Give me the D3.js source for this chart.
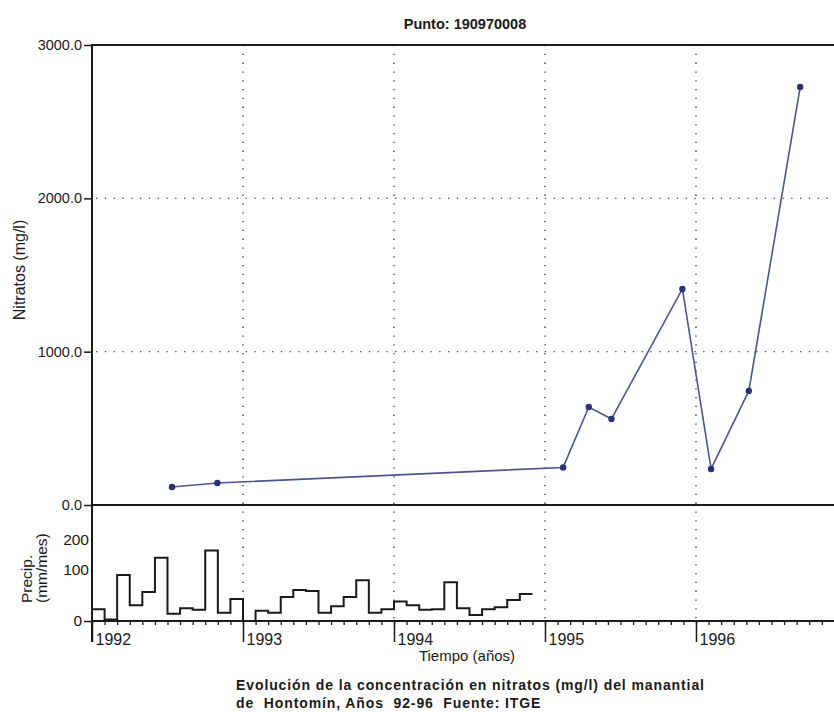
<!DOCTYPE html>
<html>
<head>
<meta charset="utf-8">
<script src="https://cdn.jsdelivr.net/npm/d3@7"></script>
<style>
body { margin: 0; background: #fff; }
svg { display: block; font-family: "Liberation Sans", Arial, sans-serif; }
</style>
</head>
<body>
<div id="chart"></div>
<script>
// muestras de nitratos (año decimal, mg/l)
var sampleYears = [1992.53, 1992.83, 1995.12, 1995.29, 1995.44, 1995.91, 1996.10, 1996.35, 1996.69];
var nitrates = [117, 143, 245, 639, 561, 1409, 235, 744, 2726];

// precipitacion mensual desde enero 1992 (mm/mes)
var precip1992 = [23, 3, 90, 31, 57, 141, 14, 25, 22, 165, 16, 43];
var precip1993 = [0, 20, 16, 47, 61, 59, 16, 29, 47, 80, 16, 23];
var precip1994 = [38, 31, 22, 23, 76, 25, 12, 23, 27, 41, 53];

var years = [1992, 1993, 1994, 1995, 1996];
var nitrateTicks = [0, 1000, 2000, 3000];
var precipTicks = [0, 100, 200];

var width = 834, height = 712;

var svg = d3.select("#chart").append("svg")
    .attr("width", width)
    .attr("height", height);

var x = d3.scaleLinear().domain([1992, 1996.914]).range([92, 834]);
var yN = d3.scaleLinear().domain([0, 3000]).range([505, 45]);
// la escala de precipitacion del original no es lineal entre 100 y 200
var yP = d3.scaleLinear().domain([0, 100, 200]).range([621, 570, 540]);

var ink = "#1a1a1a";

// rejilla punteada
svg.append("g").selectAll("line")
    .data(years.slice(1))
    .join("line")
    .attr("x1", d => x(d)).attr("x2", d => x(d))
    .attr("y1", yN(3000)).attr("y2", yP(0))
    .attr("stroke", "#333").attr("stroke-width", 1.3)
    .attr("stroke-dasharray", "1.3,7.5");

svg.append("g").selectAll("line")
    .data([1000, 2000])
    .join("line")
    .attr("x1", x(1992) + 4).attr("x2", width)
    .attr("y1", d => yN(d)).attr("y2", d => yN(d))
    .attr("stroke", "#444").attr("stroke-width", 1.2)
    .attr("stroke-dasharray", "1.3,7.5");

// marcos
svg.append("line")
    .attr("x1", x(1992)).attr("x2", width)
    .attr("y1", yN(3000)).attr("y2", yN(3000))
    .attr("stroke", ink).attr("stroke-width", 2);
svg.append("line")
    .attr("x1", x(1992)).attr("x2", width)
    .attr("y1", yN(0)).attr("y2", yN(0))
    .attr("stroke", ink).attr("stroke-width", 2);
svg.append("line")
    .attr("x1", x(1992)).attr("x2", width)
    .attr("y1", yP(0)).attr("y2", yP(0))
    .attr("stroke", ink).attr("stroke-width", 2.2);
svg.append("line")
    .attr("x1", x(1992)).attr("x2", x(1992))
    .attr("y1", yN(3000) - 1).attr("y2", yP(0) + 21)
    .attr("stroke", ink).attr("stroke-width", 2);

// eje nitratos
var axN = svg.append("g")
    .attr("transform", `translate(${x(1992)},0)`)
    .call(d3.axisLeft(yN).tickValues(nitrateTicks).tickFormat(d3.format(".1f")).tickSize(8).tickSizeOuter(0).tickPadding(2));
axN.select(".domain").remove();
axN.selectAll("line").attr("stroke", ink).attr("stroke-width", 1.5);
axN.selectAll("text").attr("font-size", 14.5).attr("fill", ink).attr("font-family", null);

// eje precipitacion
var axP = svg.append("g")
    .attr("transform", `translate(${x(1992)},0)`)
    .call(d3.axisLeft(yP).tickValues(precipTicks).tickFormat(d3.format("d")).tickSize(8).tickPadding(2));
axP.select(".domain").remove();
axP.selectAll("line").attr("stroke", ink).attr("stroke-width", 1.5);
axP.selectAll(".tick").filter(d => d !== 0).select("line").remove();
axP.selectAll(".tick").filter(d => d !== 0).select("text").attr("x", -3);
axP.selectAll("text").attr("font-size", 15.5).attr("fill", ink).attr("font-family", null);

// eje de tiempo: meses y años
var months = d3.range(59).map(i => 1992 + i / 12);
var axM = svg.append("g")
    .attr("transform", `translate(0,${yP(0)})`)
    .call(d3.axisBottom(x).tickValues(months).tickSize(4).tickFormat(""));
axM.select(".domain").remove();
axM.selectAll("line").attr("stroke", ink).attr("stroke-width", 1.3);

var axY = svg.append("g")
    .attr("transform", `translate(0,${yP(0)})`)
    .call(d3.axisBottom(x).tickValues(years).tickSize(21).tickFormat(d3.format("d")));
axY.select(".domain").remove();
axY.selectAll("line").attr("stroke", ink).attr("stroke-width", 1.5);
axY.selectAll("text")
    .attr("text-anchor", "start")
    .attr("x", 3).attr("y", 24).attr("dy", 0)
    .attr("font-size", 16).attr("fill", ink).attr("font-family", null);

// precipitacion en escalones
var precip = precip1992.concat(precip1993, precip1994);
var steps = precip.map((v, i) => ({ t: 1992 + i / 12, v: v }));
steps.push({ t: 1992 + precip.length / 12, v: precip[precip.length - 1] });

var stepLine = d3.line()
    .x(d => x(d.t))
    .y(d => yP(d.v))
    .curve(d3.curveStepAfter);

svg.append("path")
    .attr("d", stepLine(steps))
    .attr("fill", "none")
    .attr("stroke", ink)
    .attr("stroke-width", 2);

// nitratos
var nData = sampleYears.map((t, i) => ({ t: t, v: nitrates[i] }));
var nLine = d3.line().x(d => x(d.t)).y(d => yN(d.v));

svg.append("path")
    .attr("d", nLine(nData))
    .attr("fill", "none")
    .attr("stroke", "#4a5592")
    .attr("stroke-width", 1.6);

svg.append("g").selectAll("circle")
    .data(nData)
    .join("circle")
    .attr("cx", d => x(d.t))
    .attr("cy", d => yN(d.v))
    .attr("r", 3.2)
    .attr("fill", "#26337a");

// textos
svg.append("text")
    .attr("x", 465).attr("y", 29)
    .attr("text-anchor", "middle")
    .attr("font-size", 14.5).attr("font-weight", "bold").attr("fill", ink)
    .text("Punto: 190970008");

svg.append("text")
    .attr("transform", "translate(25,270) rotate(-90)")
    .attr("text-anchor", "middle")
    .attr("font-size", 16).attr("fill", ink)
    .text("Nitratos (mg/l)");

svg.append("text")
    .attr("transform", "translate(32,603) rotate(-90)")
    .attr("font-size", 15.5).attr("fill", ink)
    .text("Precip.");
svg.append("text")
    .attr("transform", "translate(47,603) rotate(-90)")
    .attr("font-size", 15.5).attr("fill", ink)
    .text("(mm/mes)");

svg.append("text")
    .attr("x", 467).attr("y", 661)
    .attr("text-anchor", "middle")
    .attr("font-size", 15).attr("fill", ink)
    .text("Tiempo (años)");

var caption = svg.append("g")
    .attr("font-size", 14).attr("font-weight", "bold").attr("fill", ink)
    .attr("letter-spacing", 0.9);
caption.append("text")
    .attr("x", 236).attr("y", 690)
    .text("Evolución de la concentración en nitratos (mg/l) del manantial");
caption.append("text")
    .attr("x", 236).attr("y", 708)
    .text("de\u00a0 Hontomín, Años\u00a0 92-96\u00a0 Fuente: ITGE");
</script>
</body>
</html>
